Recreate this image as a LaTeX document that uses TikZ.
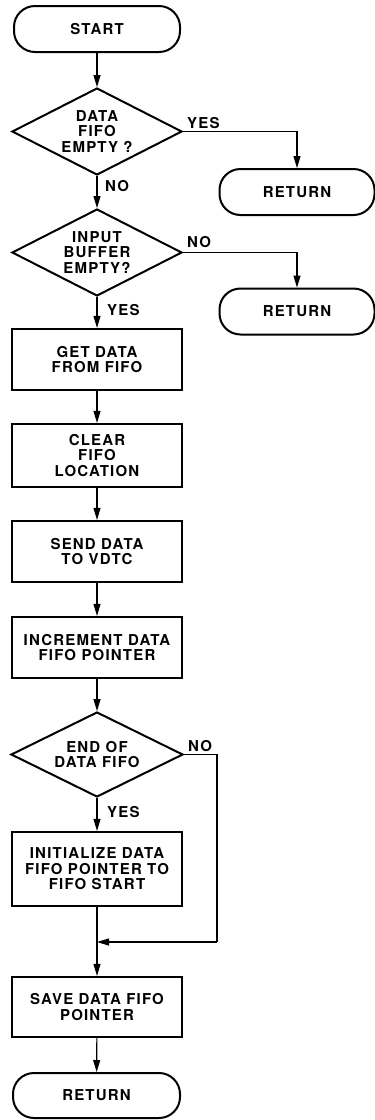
\documentclass[tikz,border=0pt]{standalone}
\usepackage{fontspec}
\setmainfont{TeX Gyre Heros}[LetterSpace=8]
\usetikzlibrary{shapes.geometric,arrows.meta}

\tikzset{
  base/.style={font=\fontsize{15}{15.5}\selectfont\bfseries, align=center, inner sep=0pt},
  term/.style={base, draw, line width=2pt, rectangle, rounded corners=21pt,
               minimum width=166pt, minimum height=46pt},
  proc/.style={base, draw, line width=2.2pt, rectangle, minimum width=170pt},
  dec/.style={base, draw, line width=2pt, diamond, aspect=2,
              minimum width=170pt, minimum height=87pt},
  lbl/.style={base, anchor=west},
  conn/.style={line width=1.1pt, -{Triangle[length=12pt,width=7pt]}},
  plain/.style={line width=1.1pt}
}

\begin{document}
\begin{tikzpicture}[x=1pt,y=-1pt]
\useasboundingbox (0,0) rectangle (375,1120);

% main column
\node[term] (start) at (97,29) {START};
\node[dec]  (d1) at (97,131.5) {DATA\\FIFO\\EMPTY ?};
\node[dec]  (d2) at (97,252.5) {INPUT\\BUFFER\\EMPTY?};
\node[proc, minimum height=61pt] (get)   at (97,359.5) {GET DATA\\FROM FIFO};
\node[proc, minimum height=63pt] (clear) at (97,455.5) {CLEAR\\FIFO\\LOCATION};
\node[proc, minimum height=61pt] (send)  at (97,551.5) {SEND DATA\\TO VDTC};
\node[proc, minimum height=61pt] (incr)  at (97,647.5) {INCREMENT DATA\\FIFO POINTER};
\node[dec, minimum width=172pt, minimum height=85pt] (d3) at (97,754.5) {END OF\\DATA FIFO};
\node[proc, minimum height=74pt] (init)  at (97,869) {INITIALIZE DATA\\FIFO POINTER TO\\FIFO START};
\node[proc, minimum height=60pt] (save)  at (97,1007) {SAVE DATA FIFO\\POINTER};
\node[term, minimum width=167pt, minimum height=45pt] (ret3) at (96.5,1095.5) {RETURN};

% side exits
\node[term, minimum width=155pt, minimum height=46pt] (ret1) at (297,192) {RETURN};
\node[term, minimum width=155pt, minimum height=46pt] (ret2) at (297,311.5) {RETURN};

% branch labels
\node[lbl] (y1) at (187,123) {YES};
\node[lbl] (n1) at (105,186) {NO};
\node[lbl] (n2) at (187,242) {NO};
\node[lbl] (y2) at (107,310.5) {YES};
\node[lbl] (n3) at (188,746.5) {NO};
\node[lbl] (y3) at (107,812.5) {YES};

% connectors
\draw[conn] (start) -- (d1);
\draw[conn] (d1) -- (d2);
\draw[conn] (d2) -- (get);
\draw[conn] (get) -- (clear);
\draw[conn] (clear) -- (send);
\draw[conn] (send) -- (incr);
\draw[conn] (incr) -- (d3);
\draw[conn] (d3) -- (init);
\draw[conn] (init) -- (save);
\draw[conn] (save) -- (ret3);

\draw[conn] (d1.east) -| (ret1.north);
\draw[conn] (d2.east) -| (ret2.north);

\coordinate (loopc) at (217,942);
\coordinate (join) at (97,942);
\draw[plain] (d3.east) -| (loopc);
\draw[conn] (loopc) -- (join);
\end{tikzpicture}
\end{document}
